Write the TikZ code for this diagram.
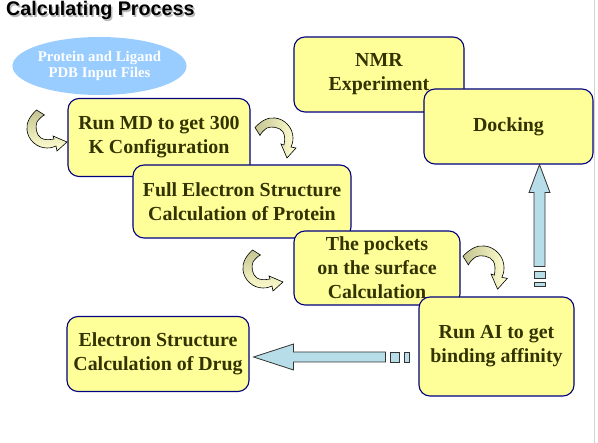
\documentclass[tikz,border=0pt]{standalone}
\usepackage{fontspec}
\setmainfont{Liberation Serif}
\newfontfamily\stepfont{Liberation Serif}
\newfontfamily\headfont{Liberation Sans}
\usetikzlibrary{positioning,calc,shapes.geometric}
\definecolor{boxfill}{HTML}{FFFF99}
\definecolor{boxline}{HTML}{000080}
\definecolor{boxtext}{HTML}{333300}
\definecolor{inputfill}{HTML}{99CCFF}
\definecolor{pipefill}{HTML}{B7DEE8}
\definecolor{curlydark}{HTML}{C4C491}
\definecolor{curlylight}{HTML}{FFFFD2}
\tikzset{
  stepbox/.style={draw=boxline, line width=1.1pt, fill=boxfill, rounded corners=11pt,
    text=boxtext, font=\stepfont\bfseries\fontsize{19.9}{24}\selectfont, align=center, inner sep=0pt},
  inputbox/.style={ellipse, fill=inputfill, text=white, inner sep=0pt,
    font=\stepfont\bfseries\fontsize{14.8}{16.5}\selectfont, align=center},
  pipe/.style={draw=black!80, line width=0.8pt, fill=pipefill},
  curly/.style={draw=black, line width=0.6pt},
  curlyshape/.style={insert path={(9.5,0) .. controls (3,6) and (-1,13) .. (0,20)
    .. controls (1,30) and (10,38) .. (20,38) .. controls (24,38) and (27,37) .. (29,36)
    -- (30,41) -- (40,32) -- (26,26) -- (27,29) .. controls (22,30) and (17,30) .. (14,28)
    .. controls (9,25) and (8,16) .. (10,12) .. controls (12,9) and (15,6) .. (17.5,5) -- cycle}}
}
\begin{document}
\begin{tikzpicture}[x=1pt, y=-1pt]
\useasboundingbox (0,0) rectangle (598,443);
\draw[gray!35, line width=1.2pt] (594.5,0) -- (594.5,443);
% title
\node[anchor=base west, text=gray!55, font=\headfont\bfseries\fontsize{19.7}{22}\selectfont, inner sep=0pt] (shadow) at (7.5,17.5) {Calculating Process};
\node[anchor=base west, font=\headfont\bfseries\fontsize{19.7}{22}\selectfont, inner sep=0pt] (title) at (6,16) {Calculating Process};
% steps
\node[inputbox, minimum width=171, minimum height=58] (input) at (99.5,66) {Protein and Ligand\\PDB Input Files};
\node[stepbox, minimum width=182, minimum height=78] (md) at (159,137.5) {Run MD to get 300\\K Configuration};
\node[stepbox, minimum width=218, minimum height=73] (full) at (242,201.5) {Full Electron Structure\\Calculation of Protein};
\node[stepbox, minimum width=170, minimum height=75] (nmr) at (379,74.5) {NMR\\Experiment};
\node[stepbox, minimum width=169, minimum height=75] (docking) at (508.5,126.5) {Docking};
\node[stepbox, minimum width=166, minimum height=74] (pockets) at (377,268) {The pockets\\on the surface\\Calculation};
\node[stepbox, minimum width=155, minimum height=99] (ai) at (496.5,346.5) {Run AI to get\\binding affinity};
\node[stepbox, minimum width=182, minimum height=75] (drug) at (158,354) {Electron Structure\\Calculation of Drug};
% curved arrows
\draw[curly, top color=curlydark, bottom color=curlylight, shift={(27,110)}, curlyshape];
\draw[curly, top color=curlydark, bottom color=curlylight, shift={(243,250)}, curlyshape];
\draw[curly, left color=curlydark, right color=curlylight, shift={(255,118)}, cm={0,-1,-1,0,(0,0)}, curlyshape];
\draw[curly, left color=curlydark, right color=curlylight, shift={(463,246)}, scale=1.08, cm={0,-1,-1,0,(0,0)}, curlyshape];
% block arrows
\path ([xshift=4]drug.east) ++(0,3) coordinate (htip);
\path ([xshift=31]docking.south) coordinate (vtip);
\draw[pipe] (htip) -- ++(40,-13) -- ++(0,8) -- ++(92,0) -- ++(0,10) -- ++(-92,0) -- ++(0,8) -- cycle;
\draw[pipe] ($(htip)+(137,-5)$) rectangle ++(9,10);
\draw[pipe] ($(htip)+(151,-5)$) rectangle ++(5,10);
\draw[pipe] (vtip) -- ++(10.5,28) -- ++(-5,0) -- ++(0,74) -- ++(-11,0) -- ++(0,-74) -- ++(-5,0) -- cycle;
\draw[pipe] ($(vtip)+(-5.5,107)$) rectangle ++(11,7);
\draw[pipe] ($(vtip)+(-5.5,118)$) rectangle ++(11,4);
\end{tikzpicture}
\end{document}
